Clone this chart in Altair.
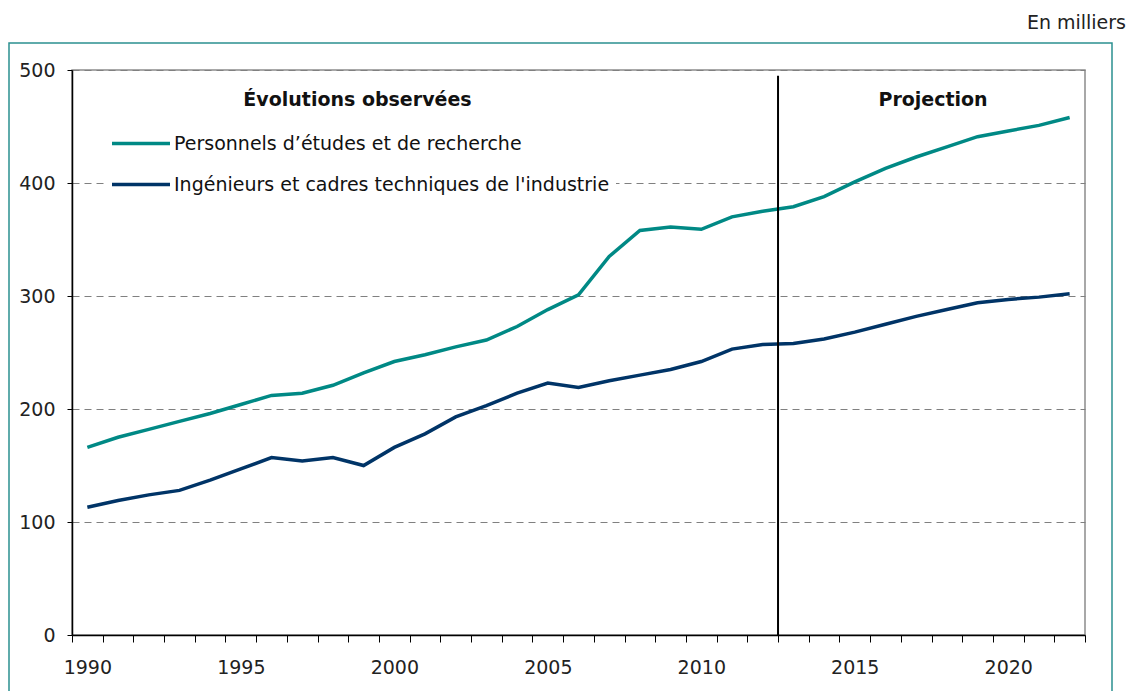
import altair as alt
import pandas as pd

years = list(range(1990, 2023))
etudes = [166, 175, 182, 189, 196, 204, 212, 214, 221, 232,
          242, 248, 255, 261, 273, 288, 301, 335, 358, 361,
          359, 370, 375, 379, 388, 401, 413, 423, 432, 441,
          446, 451, 458]
ingenieurs = [113, 119, 124, 128, 137, 147, 157, 154, 157, 150,
              166, 178, 193, 203, 214, 223, 219, 225, 230, 235,
              242, 253, 257, 258, 262, 268, 275, 282, 288, 294,
              297, 299, 302]
series_names = ["Personnels d\u2019études et de recherche",
                "Ingénieurs et cadres techniques de l'industrie"]
series_colors = ["#008985", "#003467"]
y_ticks = [0, 100, 200, 300, 400, 500]
year_edges = [1989.5 + i for i in range(34)]
split_year = [2012.5]
split_top = [495]
annot_labels = ["Évolutions observées", "Projection"]
annot_x = [1998.8, 2017.55]
annot_y = [468, 468]
unit_label = ["En milliers"]

FONT = "DejaVu Sans"

df = pd.DataFrame({
    "annee": years * 2,
    "valeur": etudes + ingenieurs,
    "serie": [series_names[0]] * len(years) + [series_names[1]] * len(years),
})

xscale = alt.Scale(domain=[1989.5, 2022.5], nice=False, zero=False)
yscale = alt.Scale(domain=[0, 500], nice=False)

xaxis = alt.Axis(
    values=year_edges,
    labelExpr="(datum.value + 0.5) % 5 == 0 ? format(datum.value + 0.5, 'd') : ''",
    labelOffset=15.35, tickSize=7, tickColor="black", tickWidth=1,
    domainColor="black", domainWidth=1.5, grid=False, title=None,
    labelFont=FONT, labelFontSize=19, labelColor="#222", labelPadding=16,
    labelOverlap=False, labelFlush=False, labelBound=False,
)
yaxis = alt.Axis(
    values=y_ticks, tickSize=5, tickColor="black", domainColor="black",
    domainWidth=1.5, grid=True, gridDash=[7, 5], gridColor="#808080",
    gridWidth=1, title=None, labelFont=FONT, labelFontSize=19,
    labelColor="#222", labelPadding=12, labelOverlap=False,
)

frame = alt.Chart(pd.DataFrame({"k": [0]})).mark_rect(
    fill=None, stroke="#2b9090", strokeWidth=1.5
).encode(
    x=alt.value(-63), x2=alt.value(1040), y=alt.value(-27), y2=alt.value(700)
)

unit = alt.Chart(pd.DataFrame({"t": unit_label})).mark_text(
    font=FONT, fontSize=19, color="#222", align="right", baseline="alphabetic"
).encode(x=alt.value(1054), y=alt.value(-41), text="t:N")

lines = alt.Chart(df).mark_line(strokeWidth=3.5).encode(
    x=alt.X("annee:Q", scale=xscale, axis=xaxis),
    y=alt.Y("valeur:Q", scale=yscale, axis=yaxis),
    color=alt.Color(
        "serie:N",
        scale=alt.Scale(domain=series_names, range=series_colors),
        sort=series_names,
        legend=alt.Legend(
            title=None, orient="none", legendX=32, legendY=36.5,
            direction="vertical", symbolType="stroke", symbolSize=3364,
            symbolStrokeWidth=3.5, labelFont=FONT, labelFontSize=19,
            labelColor="#111", labelLimit=900, fillColor="white",
            padding=6, rowPadding=-22, labelOffset=2,
        ),
    ),
)

vline = alt.Chart(pd.DataFrame({"x": split_year, "top": split_top, "bot": [0]})).mark_rule(
    color="black", strokeWidth=2
).encode(
    x=alt.X("x:Q", scale=xscale, axis=xaxis),
    y=alt.Y("top:Q", scale=yscale, axis=yaxis),
    y2="bot:Q",
)

annots = alt.Chart(pd.DataFrame({"t": annot_labels, "x": annot_x, "y": annot_y})).mark_text(
    font=FONT, fontSize=19, fontWeight="bold", color="#111", align="center",
    baseline="alphabetic"
).encode(
    x=alt.X("x:Q", scale=xscale, axis=xaxis),
    y=alt.Y("y:Q", scale=yscale, axis=yaxis),
    text="t:N",
)

chart = alt.layer(frame, unit, lines, vline, annots).properties(
    width=1013, height=565,
    autosize=alt.AutoSizeParams(type="none"),
    padding={"left": 64, "top": 62, "right": 43, "bottom": 56},
).configure_view(stroke="#8c8c8c", strokeWidth=1.5)

chart.save("out.html", embed_options={"renderer": "svg", "actions": False})
